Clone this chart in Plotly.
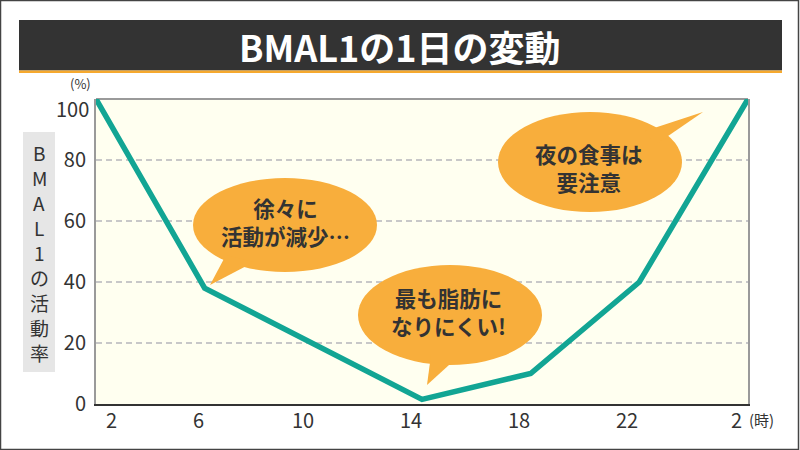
import plotly.graph_objects as go

# ---- data ----
hours = [2, 6, 14, 18, 22, 26]
activity = [100, 38, 1.5, 10, 40, 100]
x_tick_hours = [2, 6, 10, 14, 18, 22, 26]
x_tick_labels = ["2", "6", "10", "14", "18", "22", "2"]
y_tick_vals = [0, 20, 40, 60, 80]
y_tick_labels = ["0", "20", "40", "60", "80"]
title_text = "BMAL1の1日の変動"
y_title_chars = ["B", "M", "A", "L", "1", "の", "活", "動", "率"]
bubble_lines = [
    ["徐々に", "活動が減少…"],
    ["最も脂肪に", "なりにくい!"],
    ["夜の食事は", "要注意"],
]

# ---- layout geometry (pixels) ----
W, H = 800, 450
L, R, T, B = 96, 748, 99, 404
FONT = "Noto Sans CJK JP"
DARK = "#333333"
ORANGE = "#F8AE3C"
TEAL = "#12A594"


def px(x):
    return (x - L) / (R - L)


def py(y):
    return (B - y) / (B - T)


fig = go.Figure()
fig.add_trace(go.Scatter(
    x=hours, y=activity, mode="lines",
    line=dict(color=TEAL, width=5.5), hoverinfo="skip", showlegend=False,
))

shapes = []
annotations = []

# outer frame
shapes.append(dict(type="rect", xref="paper", yref="paper",
                   x0=px(0.5), x1=px(798.5), y0=py(0.5), y1=py(449.5),
                   line=dict(color="#444444", width=1.5), fillcolor="rgba(0,0,0,0)"))
# title bar
shapes.append(dict(type="rect", xref="paper", yref="paper",
                   x0=px(19), x1=px(782), y0=py(20), y1=py(70.5),
                   line=dict(width=0), fillcolor=DARK))
shapes.append(dict(type="rect", xref="paper", yref="paper",
                   x0=px(19), x1=px(782), y0=py(70.5), y1=py(73),
                   line=dict(width=0), fillcolor="#F6A92E"))
annotations.append(dict(text="<b>" + title_text + "</b>", xref="paper", yref="paper",
                        x=px(400), y=py(46), showarrow=False,
                        font=dict(family=FONT, size=36, color="white"),
                        xanchor="center", yanchor="middle"))
# top border of plot
shapes.append(dict(type="line", xref="paper", yref="paper", x0=0, x1=1, y0=1, y1=1,
                   line=dict(color="#9a9a9a", width=2), layer="below"))

# y title box + stacked upright characters
shapes.append(dict(type="rect", xref="paper", yref="paper",
                   x0=px(23), x1=px(55), y0=py(132), y1=py(372),
                   line=dict(width=0), fillcolor="#E6E6E6"))
for i, ch in enumerate(y_title_chars):
    annotations.append(dict(text=ch, xref="paper", yref="paper",
                            x=px(39), y=py(152 + 25 * i), showarrow=False, borderpad=0,
                            xanchor="center", yanchor="middle",
                            font=dict(family=FONT, size=19, color=DARK)))

# (%) and (時)
annotations.append(dict(text="(%)", xref="paper", yref="paper", x=px(80), y=py(84),
                        showarrow=False, xanchor="center", yanchor="middle",
                        font=dict(family=FONT, size=13, color=DARK)))
annotations.append(dict(text="(時)", xref="x", yref="y", x=26, y=0, xshift=13, yshift=-15,
                        showarrow=False, xanchor="center", yanchor="middle",
                        font=dict(family=FONT, size=15, color=DARK)))

# x tick labels
x_shift = [15, -6, -10, -11, -12, -12, -12]
for hv, lab, sh in zip(x_tick_hours, x_tick_labels, x_shift):
    annotations.append(dict(text=lab, xref="x", yref="y", x=hv, y=0, xshift=sh, yshift=-15,
                            showarrow=False, xanchor="center", yanchor="middle",
                            font=dict(family=FONT, size=20, color=DARK)))
# 100 label (shifted down)
annotations.append(dict(text="100", xref="paper", yref="y", x=px(91), y=100, yshift=-9,
                        showarrow=False, xanchor="right", yanchor="middle",
                        font=dict(family=FONT, size=20, color=DARK)))

# speech bubbles: ellipse (cx, cy, rx, ry), pointer triangle, text centre
bubbles = [
    dict(c=(285, 225, 92, 47), tri=[(210, 285), (226, 255), (254, 262)], tc=(285, 221)),
    dict(c=(450, 315, 92, 50), tri=[(427, 385), (431, 355), (460, 355)], tc=(448, 311)),
    dict(c=(590, 162, 92, 50), tri=[(703, 112), (645, 131), (655, 145)], tc=(589, 167)),
]
for bb, lines in zip(bubbles, bubble_lines):
    cx, cy, rx, ry = bb["c"]
    shapes.append(dict(type="circle", xref="paper", yref="paper",
                       x0=px(cx - rx), x1=px(cx + rx), y0=py(cy + ry), y1=py(cy - ry),
                       line=dict(width=0), fillcolor=ORANGE, layer="above"))
    pts = bb["tri"]
    path = "M " + " L ".join(f"{px(a):.5f},{py(b):.5f}" for a, b in pts) + " Z"
    shapes.append(dict(type="path", xref="paper", yref="paper", path=path,
                       line=dict(width=0), fillcolor=ORANGE, layer="above"))
    tx, ty = bb["tc"]
    annotations.append(dict(text="<b>" + "<br>".join(lines) + "</b>", xref="paper", yref="paper",
                            x=px(tx), y=py(ty), showarrow=False, align="center",
                            xanchor="center", yanchor="middle",
                            font=dict(family=FONT, size=21.5, color=DARK)))

fig.update_layout(
    width=W, height=H,
    margin=dict(l=L, r=W - R, t=T, b=H - B, pad=0),
    paper_bgcolor="white", plot_bgcolor="#FFFFF0",
    showlegend=False,
    shapes=shapes, annotations=annotations,
    xaxis=dict(range=[2, 26], showgrid=False, zeroline=False, showticklabels=False,
               showline=True, linecolor=DARK, linewidth=2, ticks="", fixedrange=True),
    yaxis=dict(range=[0, 100], tickvals=y_tick_vals, ticktext=y_tick_labels,
               showgrid=True, gridcolor="#C8C8C8", griddash="6px,4px", gridwidth=1.5,
               zeroline=False, showline=True, linecolor="#9a9a9a", linewidth=2, mirror=True,
               ticks="", ticklabelstandoff=4,
               tickfont=dict(family=FONT, size=20, color=DARK), fixedrange=True),
)

fig.write_html("out.html", config={"displayModeBar": False})
